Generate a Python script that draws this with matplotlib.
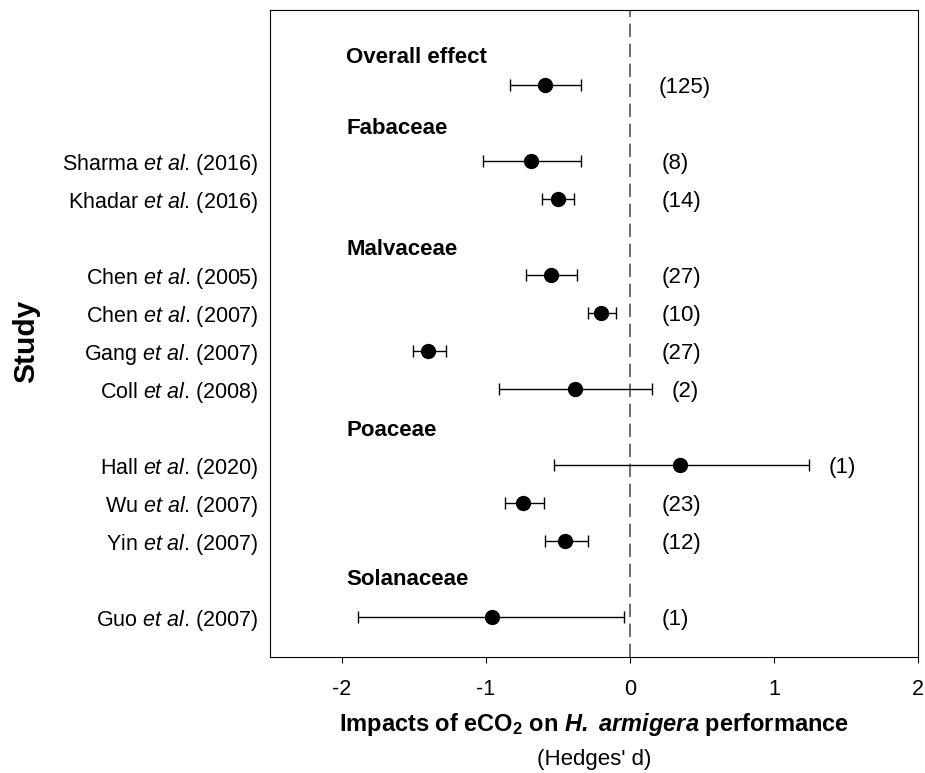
import matplotlib
matplotlib.use("Agg")
from matplotlib import pyplot as plt
from matplotlib import ticker

plt.rcParams['font.family'] = ['Liberation Sans', 'DejaVu Sans']
plt.rcParams['axes.unicode_minus'] = False
plt.rcParams['mathtext.fontset'] = 'custom'
plt.rcParams['mathtext.rm'] = 'Liberation Sans'
plt.rcParams['mathtext.it'] = 'Liberation Sans:italic'
plt.rcParams['mathtext.bf'] = 'Liberation Sans:bold'
plt.rcParams['mathtext.bfit'] = 'Liberation Sans:italic:bold'

# overall effect
overall_mean = -0.59
overall_low = -0.83
overall_high = -0.34
overall_n = 125

# studies, grouped by host plant family
families = ['Fabaceae', 'Malvaceae', 'Poaceae', 'Solanaceae']
family_studies = [
    ['Sharma', 'Khadar'],
    ['Chen', 'Chen', 'Gang', 'Coll'],
    ['Hall', 'Wu', 'Yin'],
    ['Guo'],
]
family_years = [
    [2016, 2016],
    [2005, 2007, 2007, 2008],
    [2020, 2007, 2007],
    [2007],
]
effect = [-0.685, -0.50, -0.55, -0.20, -1.40, -0.38, 0.35, -0.74, -0.45, -0.96]
ci_low = [-1.02, -0.61, -0.72, -0.29, -1.51, -0.91, -0.53, -0.865, -0.59, -1.89]
ci_high = [-0.34, -0.39, -0.37, -0.10, -1.28, 0.15, 1.24, -0.595, -0.29, -0.04]
n_obs = [8, 14, 27, 10, 27, 2, 1, 23, 12, 1]

fig = plt.figure(figsize=(9.25, 7.73), dpi=100)
ax = fig.add_axes([0.2919, 0.15, 0.7005, 0.837])

# lay out rows: each header takes one slot, each study one slot
header_slots = [0]
header_names = ['Overall effect']
row_slots = []
row_labels = []
slot = 2
for fam, names, years in zip(families, family_studies, family_years):
    header_slots.append(slot)
    header_names.append(fam)
    slot += 1
    for name, year in zip(names, years):
        row_slots.append(slot)
        row_labels.append(name + r' $\it{et}$ $\it{al}$. (' + str(year) + ')')
        slot += 1

point_style = dict(fmt='o', color='k', ms=10, ecolor='k', elinewidth=1,
                   capsize=4, capthick=1)

ax.errorbar([overall_mean], [1],
            xerr=[[overall_mean - overall_low], [overall_high - overall_mean]],
            **point_style)
ax.errorbar(effect, row_slots,
            xerr=[[e - lo for e, lo in zip(effect, ci_low)],
                  [hi - e for e, hi in zip(effect, ci_high)]],
            **point_style)

ax.axvline(0, color='#555555', lw=1.2, ls=(0, (8, 4)), zorder=0)

header_nudge = [0.29, 0.15, 0.33, 0.08, 0.02]
for name, s, nd in zip(header_names, header_slots, header_nudge):
    ax.text(-1.97, s + nd, name, fontsize=16, fontweight='bold',
            ha='left', va='center')

ax.text(0.2, 1, '(%d)' % overall_n, fontsize=16, ha='left',
        va='center_baseline')
for s, hi, n in zip(row_slots, ci_high, n_obs):
    ax.text(max(0.22, hi + 0.14), s, '(%d)' % n, fontsize=16,
            ha='left', va='center_baseline')

ax.set_yticks(row_slots)
ax.set_yticklabels(row_labels, fontsize=15.5)
ax.tick_params(axis='y', length=0, pad=8.5)
ax.tick_params(axis='x', direction='out', length=4.5, labelsize=15.5, pad=11)
ax.xaxis.set_major_locator(ticker.MultipleLocator(1))

ax.set_xlim(-2.5, 2)
ax.set_ylim(16.05, -0.97)

ax.set_xlabel(r'Impacts of eCO$_{\mathbf{2}}$ on $\mathbfit{H.}$ $\mathbfit{armigera}$ performance',
              fontsize=17, fontweight='bold', labelpad=8)
ax.annotate("(Hedges' d)", xy=(0.5, 0), xycoords='axes fraction',
            xytext=(0, -66), textcoords='offset points',
            ha='center', va='top', fontsize=16)
ax.set_ylabel('Study', fontsize=21.5, fontweight='bold')
ax.yaxis.set_label_coords(-0.355, 0.488)

fig.savefig('out.png', dpi=100)
